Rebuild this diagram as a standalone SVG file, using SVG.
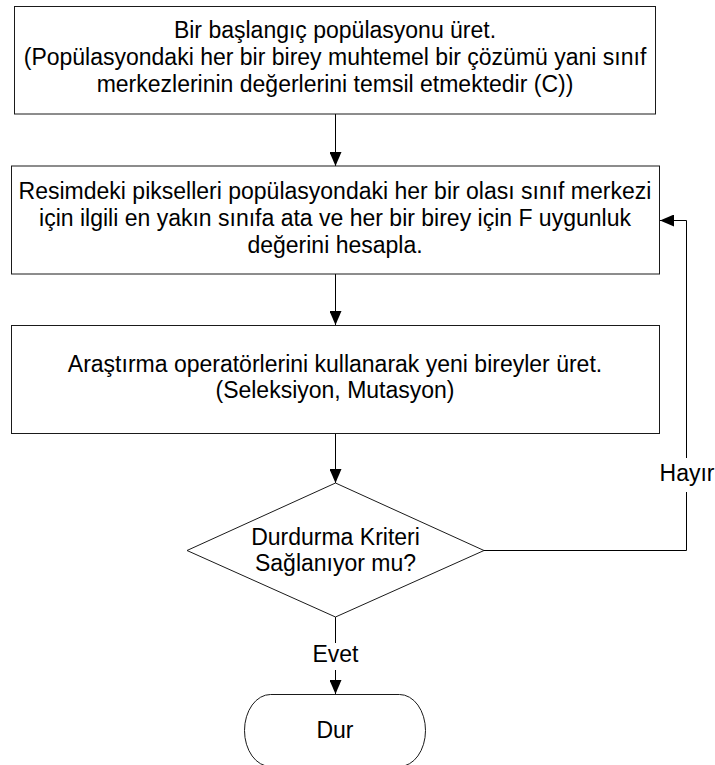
<svg xmlns="http://www.w3.org/2000/svg" width="715" height="765" viewBox="0 0 715 765">
<defs>
<style>
.box{fill:#fff;stroke:#1a1a1a;stroke-width:1}
.t{font-family:"Liberation Sans",Arial,sans-serif;font-size:23px;fill:#000;text-anchor:middle}
.c{fill:none;stroke:#000;stroke-width:1}
</style>
<marker id="ah" markerWidth="14" markerHeight="12" refX="14" refY="6" orient="auto" markerUnits="userSpaceOnUse">
<path d="M0,0 L14,6 L0,12 Z" fill="#000"/>
</marker>
</defs>
<rect width="715" height="765" fill="#fff"/>
<g id="connectors">
<line class="c" x1="335.5" y1="114" x2="335.5" y2="166" marker-end="url(#ah)"/>
<line class="c" x1="335.5" y1="274" x2="335.5" y2="325" marker-end="url(#ah)"/>
<line class="c" x1="335.5" y1="433" x2="335.5" y2="483" marker-end="url(#ah)"/>
<line class="c" x1="335.5" y1="617" x2="335.5" y2="643"/>
<line class="c" x1="335.5" y1="670" x2="335.5" y2="694" marker-end="url(#ah)"/>
<polyline class="c" points="484,550.5 686.5,550.5 686.5,492"/>
<polyline class="c" points="686.5,458 686.5,220.5 660,220.5" marker-end="url(#ah)"/>
<text class="t" x="335.5" y="662">Evet</text>
<text class="t" x="687" y="481">Hayır</text>
</g>
<g id="n1">
<rect class="box" x="14.5" y="6.5" width="641" height="107.5"/>
<text class="t" x="335" y="38">Bir başlangıç popülasyonu üret.</text>
<text class="t" x="335" y="65">(Popülasyondaki her bir birey muhtemel bir çözümü yani sınıf</text>
<text class="t" x="335" y="92">merkezlerinin değerlerini temsil etmektedir (C))</text>
</g>
<g id="n2">
<rect class="box" x="11.5" y="166" width="648" height="108"/>
<text class="t" x="335" y="199">Resimdeki pikselleri popülasyondaki her bir olası sınıf merkezi</text>
<text class="t" x="335" y="226">için ilgili en yakın sınıfa ata ve her bir birey için F uygunluk</text>
<text class="t" x="335" y="253">değerini hesapla.</text>
</g>
<g id="n3">
<rect class="box" x="11.5" y="325.5" width="648" height="108"/>
<text class="t" x="335" y="372">Araştırma operatörlerini kullanarak yeni bireyler üret.</text>
<text class="t" x="335" y="398">(Seleksiyon, Mutasyon)</text>
</g>
<g id="n4">
<polygon class="box" points="335.5,483 484,550.5 335.5,617 187,550.5"/>
<text class="t" x="335.5" y="545">Durdurma Kriteri</text>
<text class="t" x="335.5" y="571">Sağlanıyor mu?</text>
</g>
<g id="n5">
<rect class="box" x="244.5" y="694.5" width="181" height="72" rx="26" ry="36"/>
<text class="t" x="335" y="738">Dur</text>
</g>
</svg>
